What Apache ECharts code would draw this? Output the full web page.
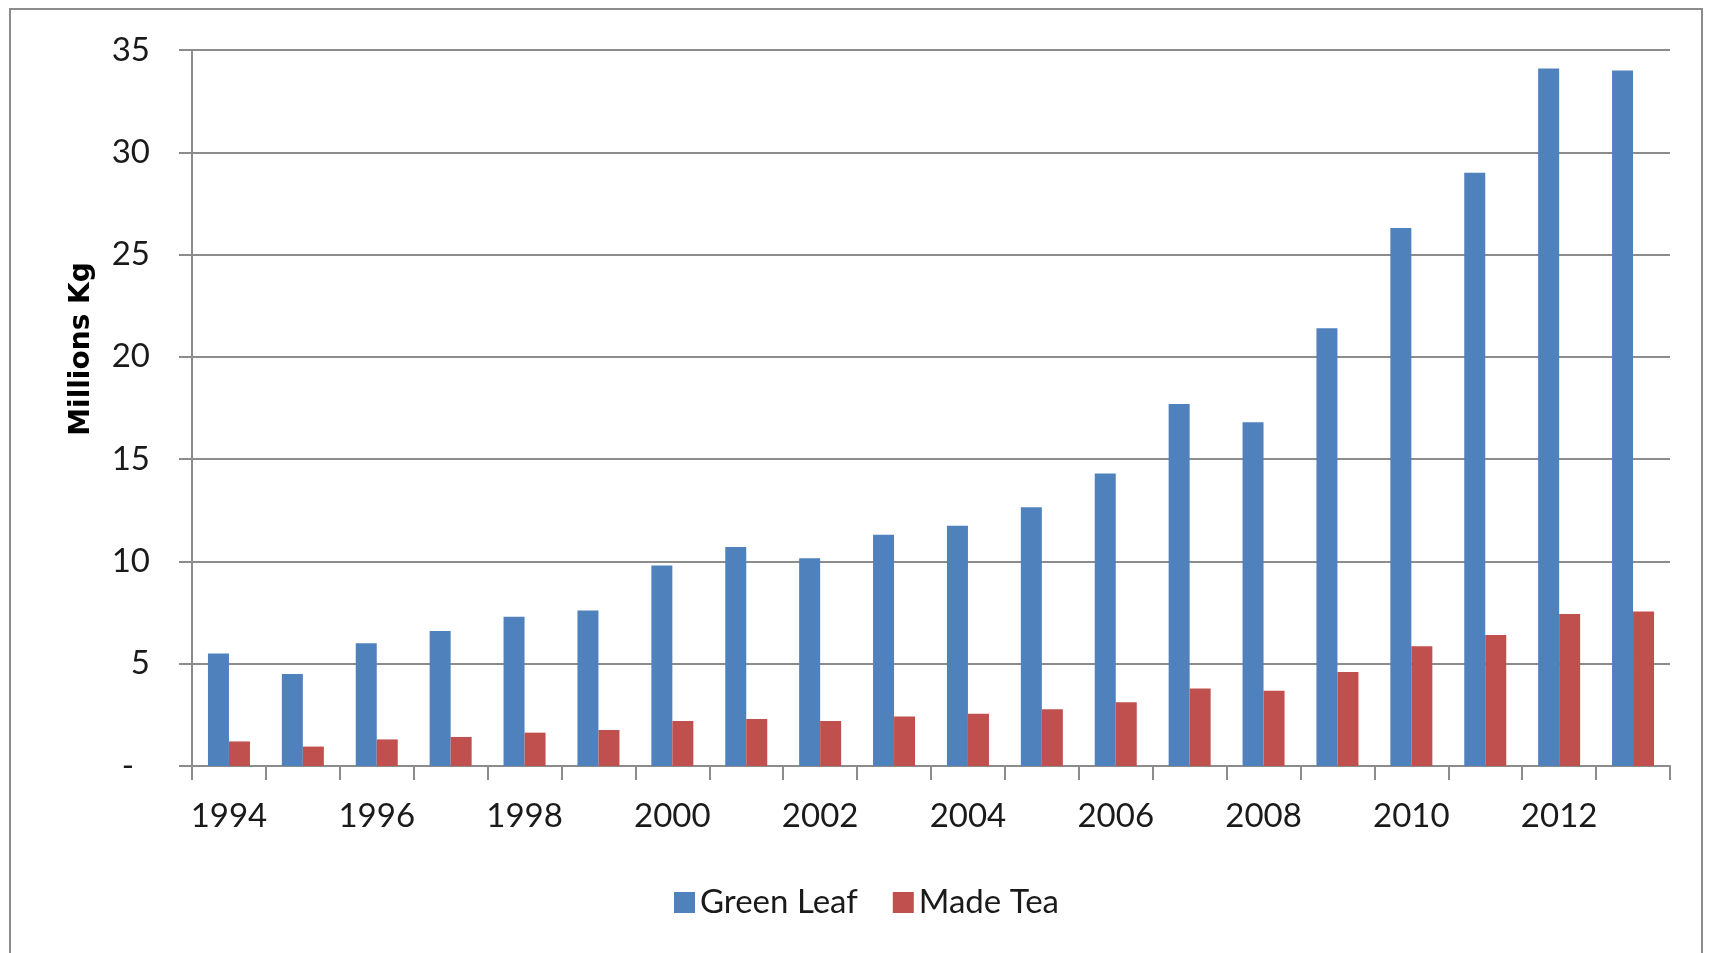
<!DOCTYPE html>
<html>
<head>
<meta charset="utf-8">
<script src="https://cdn.jsdelivr.net/npm/echarts@6/dist/echarts.min.js"></script>
<style>
  html, body { margin: 0; padding: 0; background: #ffffff; }
  #frame { position: absolute; left: 9px; top: 8px; width: 1694px; height: 980px; border: 2px solid #8c8c8c; box-sizing: border-box; }
  #chart { position: absolute; left: 0; top: 0; width: 1709px; height: 953px; }
</style>
</head>
<body>
<div id="frame"></div>
<div id="chart"></div>
<script>
const years = ['1994','1995','1996','1997','1998','1999','2000','2001','2002','2003','2004','2005','2006','2007','2008','2009','2010','2011','2012','2013'];
const greenLeaf = [5.5, 4.5, 6.0, 6.6, 7.3, 7.6, 9.8, 10.7, 10.15, 11.3, 11.75, 12.65, 14.3, 17.7, 16.8, 21.4, 26.3, 29.0, 34.1, 34.0];
const madeTea = [1.2, 0.95, 1.3, 1.42, 1.63, 1.76, 2.2, 2.3, 2.2, 2.42, 2.55, 2.78, 3.12, 3.79, 3.68, 4.59, 5.85, 6.4, 7.43, 7.55];
const seriesNames = ['Green Leaf', 'Made Tea'];
const yTitle = 'Millions Kg';

const FONT = 'Lato, "Liberation Sans", sans-serif';
const FS = 33;
const chart = echarts.init(document.getElementById('chart'), null, { renderer: 'canvas' });
chart.setOption({
  backgroundColor: 'transparent',
  animation: false,
  grid: { left: 192, right: 39, top: 50, bottom: 187, containLabel: false },
  legend: {
    data: seriesNames,
    left: 669,
    top: 881,
    itemWidth: 21,
    itemHeight: 21,
    itemGap: 35,
    icon: 'rect',
    textStyle: { fontFamily: FONT, fontSize: FS, color: '#1a1a1a' }
  },
  xAxis: {
    type: 'category',
    data: years,
    boundaryGap: true,
    axisLine: { show: true, lineStyle: { color: '#8c8c8c', width: 2 } },
    axisTick: { show: true, interval: 0, length: 14, alignWithLabel: false, lineStyle: { color: '#8c8c8c', width: 2 } },
    axisLabel: { interval: 1, margin: 34, fontFamily: FONT, fontSize: FS, color: '#1a1a1a' },
    splitLine: { show: false }
  },
  yAxis: {
    type: 'value',
    min: 0,
    max: 35,
    interval: 5,
    name: yTitle,
    nameLocation: 'middle',
    nameGap: 96,
    nameRotate: 90,
    nameTextStyle: { fontFamily: '"DejaVu Sans", sans-serif', fontWeight: 'bold', fontSize: 28, color: '#000', padding: [0, 0, 0, 118] },
    axisLine: { show: true, lineStyle: { color: '#8c8c8c', width: 2 } },
    axisTick: { show: true, length: 13, lineStyle: { color: '#8c8c8c', width: 2 } },
    axisLabel: {
      margin: 42,
      fontFamily: FONT,
      fontSize: FS,
      color: '#1a1a1a',
      formatter: function (v) { return v === 0 ? '{z|-}' : String(v); },
      rich: { z: { fontFamily: FONT, fontSize: FS, color: '#1a1a1a', padding: [0, 16, 0, 0] } }
    },
    splitLine: { show: true, lineStyle: { color: '#8c8c8c', width: 2 } }
  },
  series: [
    { name: seriesNames[0], type: 'bar', data: greenLeaf, barWidth: 21, barGap: '0%', itemStyle: { color: '#4F81BD' } },
    { name: seriesNames[1], type: 'bar', data: madeTea, barWidth: 21, barGap: '0%', itemStyle: { color: '#C0504D' } }
  ]
});
</script>
</body>
</html>
